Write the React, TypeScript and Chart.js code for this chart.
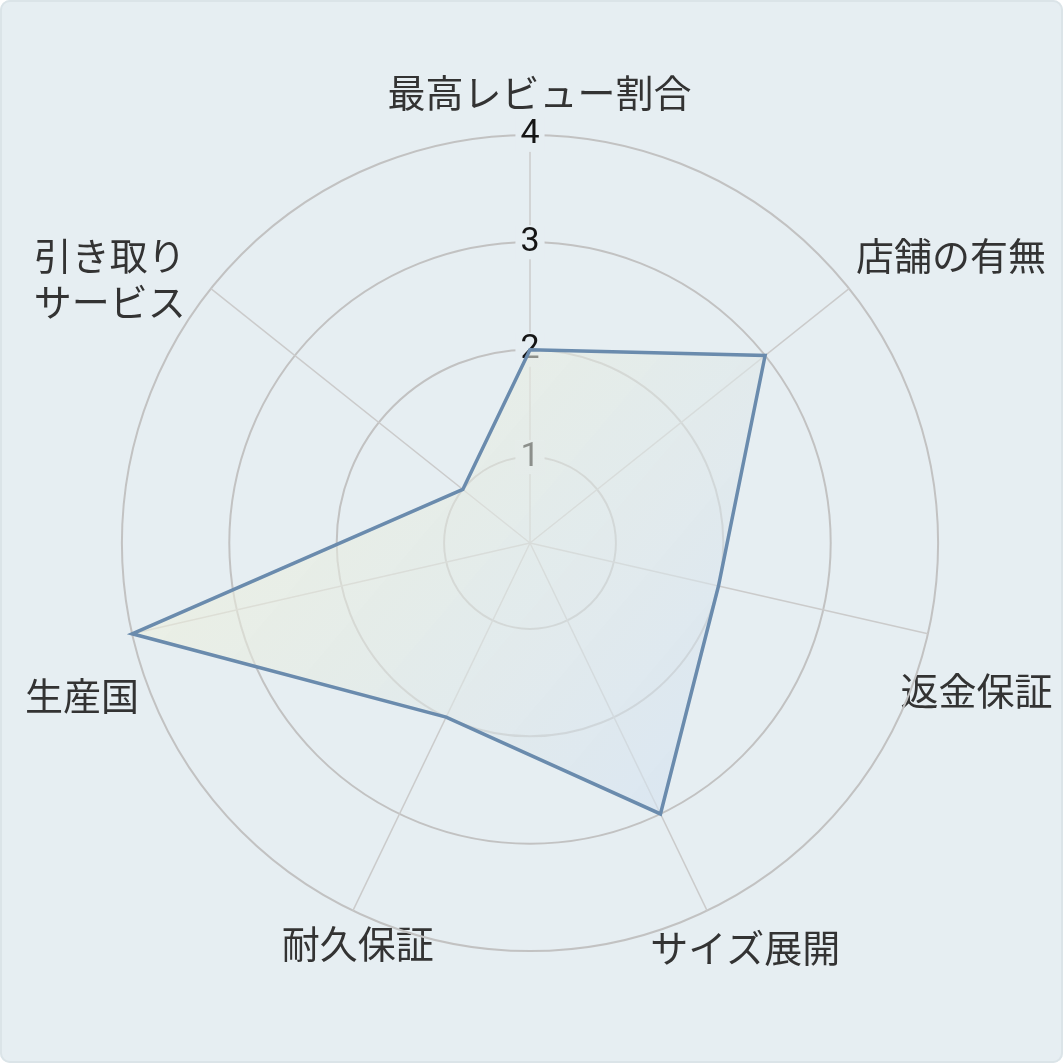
import React, { useEffect, useRef } from 'react';
import { Chart, registerables } from 'chart.js';

Chart.register(...registerables);

// axis labels; empty lines / spaces only nudge where the text sits
const labels: (string | string[])[] = [
  '  最高レビュー割合',
  '店舗の有無',
  ['', '返金保証'],
  ['', '', '', 'サイズ展開'],
  ['', '', '', '', '耐久保証'],
  ['', '生産国'],
  ['引き取り\u3000\u3000', 'サービス\u3000\u3000'],
];
const scores = [2, 3, 2, 3, 2, 4, 1];
const scaleMin = 0.2;
const scaleMax = 4;
const tickValues = [1, 2, 3, 4];

// distance tweak for each axis label, in px
const labelPadding = [-2, -8, -45, -148, -203, -24, -82];

const FONT = "Roboto, 'Noto Sans CJK JP', sans-serif";
const BG = '#e6eef2';

export default function App() {
  const chartRef = useRef<HTMLCanvasElement>(null);
  const chartInstance = useRef<Chart | null>(null);

  useEffect(() => {
    document.body.style.margin = '0';
    if (!chartRef.current) return;
    if (chartInstance.current) chartInstance.current.destroy();
    const ctx = chartRef.current.getContext('2d');
    if (!ctx) return;

    const gradient = ctx.createLinearGradient(150, 300, 800, 850);
    gradient.addColorStop(0, 'rgba(248,244,212,0.55)');
    gradient.addColorStop(1, 'rgba(205,223,245,0.6)');

    chartInstance.current = new Chart(ctx, {
      type: 'radar',
      data: {
        labels,
        datasets: [{
          label: 'score',
          data: scores,
          borderColor: '#6a8bad',
          borderWidth: 3.5,
          backgroundColor: gradient,
          fill: true,
          pointRadius: 0,
          pointHoverRadius: 0,
        }],
      },
      options: {
        responsive: true,
        maintainAspectRatio: false,
        animation: false,
        layout: { padding: { top: -2, bottom: 19, left: 17, right: 1 } },
        scales: {
          r: {
            min: scaleMin,
            max: scaleMax,
            // first tick is the (hidden) minimum, then the labelled rings
            afterBuildTicks: (scale: any) => {
              scale.ticks = [scaleMin, ...tickValues].map((value) => ({ value }));
            },
            ticks: {
              color: '#151515',
              font: { family: FONT, size: 34 },
              backdropColor: BG,
              backdropPadding: { x: 5, y: 0 },
              showLabelBackdrop: true,
            },
            grid: { circular: true, color: '#c2c2c2', lineWidth: 2 },
            angleLines: { color: '#cbcbcb', lineWidth: 1.5 },
            pointLabels: {
              color: '#333333',
              font: { family: FONT, size: 38 },
              padding: (c: any) => labelPadding[c.index],
            },
          },
        },
        plugins: {
          legend: { display: false },
          tooltip: { enabled: false },
        },
      },
    });

    return () => {
      if (chartInstance.current) {
        chartInstance.current.destroy();
        chartInstance.current = null;
      }
    };
  }, []);

  return (
    <div
      style={{
        position: 'fixed',
        left: 0,
        top: 0,
        width: '100vw',
        height: '100vh',
        background: BG,
        borderRadius: 10,
        boxShadow: 'inset 0 0 0 2px #dbe4e8',
      }}
    >
      <canvas ref={chartRef} />
    </div>
  );
}
